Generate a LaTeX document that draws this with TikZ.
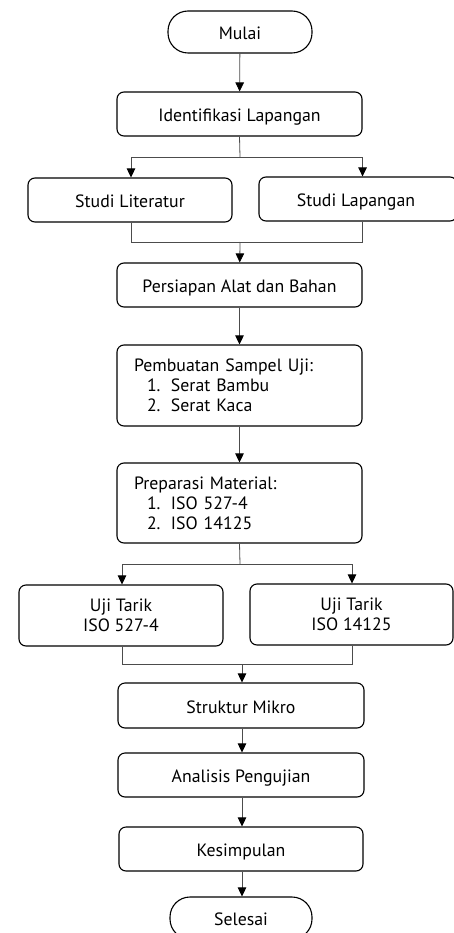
\documentclass[tikz,border=0pt]{standalone}
\usepackage{fontspec}
\setmainfont{PT Sans}
\usetikzlibrary{arrows.meta}
\newcommand{\litem}[2]{\hspace*{13pt}\makebox[24pt][l]{#1}#2}
\begin{document}
\begin{tikzpicture}[x=1pt,y=-1pt,
  box/.style={draw=black, line width=1.1pt, rounded corners=7pt, minimum width=245pt,
    minimum height=44pt, inner sep=0pt, font=\fontsize{17.8}{20}\selectfont, align=center,
    text height=15.6pt, text depth=0.4pt},
  multi/.style={box, text height={}, text depth={}},
  listbox/.style={multi, align=left, text width=211pt, inner xsep=17pt},
  term/.style={box, rounded corners=20pt, minimum width=144pt, minimum height=42pt},
  conn/.style={draw=black!70, line width=0.8pt},
  arr/.style={conn, -{Triangle[length=9pt,width=8.5pt,color=black]}},
]
\useasboundingbox (0,0) rectangle (454,933);
\begin{scope}
\clip (0,0) rectangle (454,933);
\node[term] (mulai) at (240,32) {Mulai};
\node[box] (ident) at (239.5,114) {Identifikasi Lapangan};
\node[box, minimum width=204pt] (lit) at (130,200) {Studi Literatur};
\node[box, minimum width=198pt] (lap) at (358,199) {\hspace*{-4pt}Studi Lapangan};
\node[box] (alat) at (239.5,285) {Persiapan Alat dan Bahan};
\node[listbox, minimum height=81pt] (sampel) at (239.5,385.5)
  {Pembuatan Sampel Uji:\\ \litem{1.}{Serat Bambu}\\ \litem{2.}{Serat Kaca}};
\node[listbox, minimum height=80pt] (prep) at (239.5,503)
  {Preparasi Material:\\ \litem{1.}{ISO 527-4}\\ \litem{2.}{ISO 14125}};
\node[multi, minimum width=204pt, minimum height=61pt] (uji1) at (121,615.5) {Uji Tarik\\ISO 527-4};
\node[multi, minimum width=203pt, minimum height=61pt] (uji2) at (351.5,614.5) {Uji Tarik\\ISO 14125};
\node[box, minimum width=246pt, minimum height=45pt] (mikro) at (241,705.5) {Struktur Mikro};
\node[box, minimum width=246pt] (analisis) at (241,775) {Analisis Pengujian};
\node[box, minimum width=244pt] (simpul) at (241,849) {Kesimpulan};
\node[term, minimum width=142pt] (selesai) at (241,918) {Selesai};

\coordinate (b1) at (240,157);
\coordinate (m1) at (240,242);
\coordinate (b2) at (240,564);
\coordinate (m2) at (242,664);

\draw[arr] (mulai) -- (ident);
\draw[conn] (ident.south) -- (b1);
\draw[arr] (b1) -| (lit.north -| 131,0);
\draw[arr] (b1) -| (lap.north -| ident.east);
\draw[conn] (lit.south -| 131,0) |- (m1);
\draw[conn] (lap.south -| ident.east) |- (m1);
\draw[arr] (m1) -- (alat);
\draw[arr] (alat) -- (sampel);
\draw[arr] (sampel) -- (prep);
\draw[conn] (prep.south) -- (b2);
\draw[arr] (b2) -| (uji1.north -| 122,0);
\draw[arr] (b2) -| (uji2.north -| 352,0);
\draw[conn] (uji1.south -| 122,0) |- (m2);
\draw[conn] (uji2.south -| 352,0) |- (m2);
\draw[arr] (m2) -- (mikro.north -| m2);
\draw[arr] (mikro.south -| m2) -- (analisis.north -| m2);
\draw[arr] (analisis.south -| m2) -- (simpul.north -| m2);
\draw[arr] (simpul.south -| m2) -- (selesai.north -| m2);
\end{scope}
\end{tikzpicture}
\end{document}
